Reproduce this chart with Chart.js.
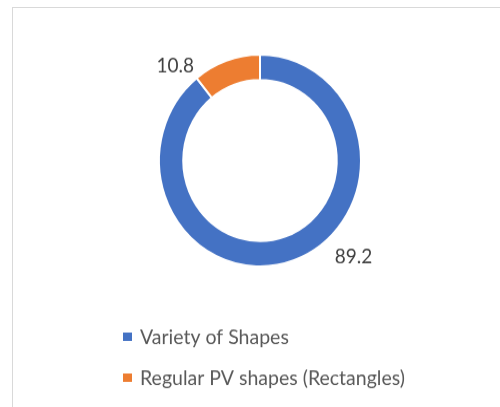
<!DOCTYPE html>
<html>
<head>
<meta charset="utf-8">
<script src="https://cdn.jsdelivr.net/npm/chart.js@4"></script>
<style>
  html, body { margin: 0; padding: 0; background: #fff; }
  #wrap { position: relative; width: 500px; height: 407px; overflow: hidden; }
  #frame { position: absolute; left: 12px; top: 7px; width: 600px; height: 500px; border: 1px solid #d9d9d9; box-sizing: border-box; }
  /* the chart is drawn a little taller than wide */
  #stretch { position: absolute; left: 0; top: 0; width: 500px; height: 388px; transform: scaleY(1.049); transform-origin: 0 0; }
</style>
</head>
<body>
<div id="wrap">
  <div id="frame"></div>
  <div id="stretch"><canvas id="shapesChart" width="500" height="388"></canvas></div>
</div>
<script>
// share of module shapes
const shapeLabels = ['Variety of Shapes', 'Regular PV shapes (Rectangles)'];
const shapeValues = [89.2, 10.8];
const shapeColors = ['#4472C4', '#ED7D31'];

const textFont = '"Lato", "Open Sans", sans-serif';

// value labels sit just outside the ring
const valueLabels = {
  id: 'valueLabels',
  afterDatasetsDraw(chart, args, opts) {
    const ctx = chart.ctx;
    const arcs = chart.getDatasetMeta(0).data;
    ctx.save();
    ctx.font = opts.size + 'px ' + textFont;
    ctx.fillStyle = opts.color;
    ctx.textAlign = 'center';
    ctx.textBaseline = 'middle';
    arcs.forEach((arc, i) => {
      const a = (opts.angles[i] - 90) * Math.PI / 180;
      const r = arc.outerRadius + opts.gaps[i];
      ctx.fillText(String(shapeValues[i]), arc.x + Math.cos(a) * r, arc.y + Math.sin(a) * r);
    });
    ctx.restore();
  }
};

// stacked legend under the ring
const stackedLegend = {
  id: 'stackedLegend',
  afterDraw(chart, args, opts) {
    const ctx = chart.ctx;
    ctx.save();
    ctx.font = opts.size + 'px ' + textFont;
    ctx.textBaseline = 'middle';
    chart.data.labels.forEach((label, i) => {
      const y = opts.top + i * opts.rowGap;
      ctx.fillStyle = chart.data.datasets[0].backgroundColor[i];
      ctx.fillRect(opts.left, y - 4, 9, 8);
      ctx.fillStyle = opts.color;
      ctx.fillText(label, opts.left + 17, y + 1);
    });
    ctx.restore();
  }
};

const ctx = document.getElementById('shapesChart').getContext('2d');
new Chart(ctx, {
  type: 'doughnut',
  data: {
    labels: shapeLabels,
    datasets: [{
      data: shapeValues,
      backgroundColor: shapeColors,
      borderColor: '#ffffff',
      borderWidth: 2
    }]
  },
  options: {
    responsive: false,
    animation: false,
    cutout: '76%',
    layout: {
      padding: { top: 51, bottom: 133, left: 20, right: 0 }
    },
    plugins: {
      legend: { display: false },
      tooltip: { enabled: false },
      valueLabels: { size: 19, color: '#404040', angles: [134.4, 316.9], gaps: [30, 23] },
      stackedLegend: { size: 19.5, color: '#595959', left: 123, top: 321, rowGap: 39 }
    }
  },
  plugins: [valueLabels, stackedLegend]
});
</script>
</body>
</html>
